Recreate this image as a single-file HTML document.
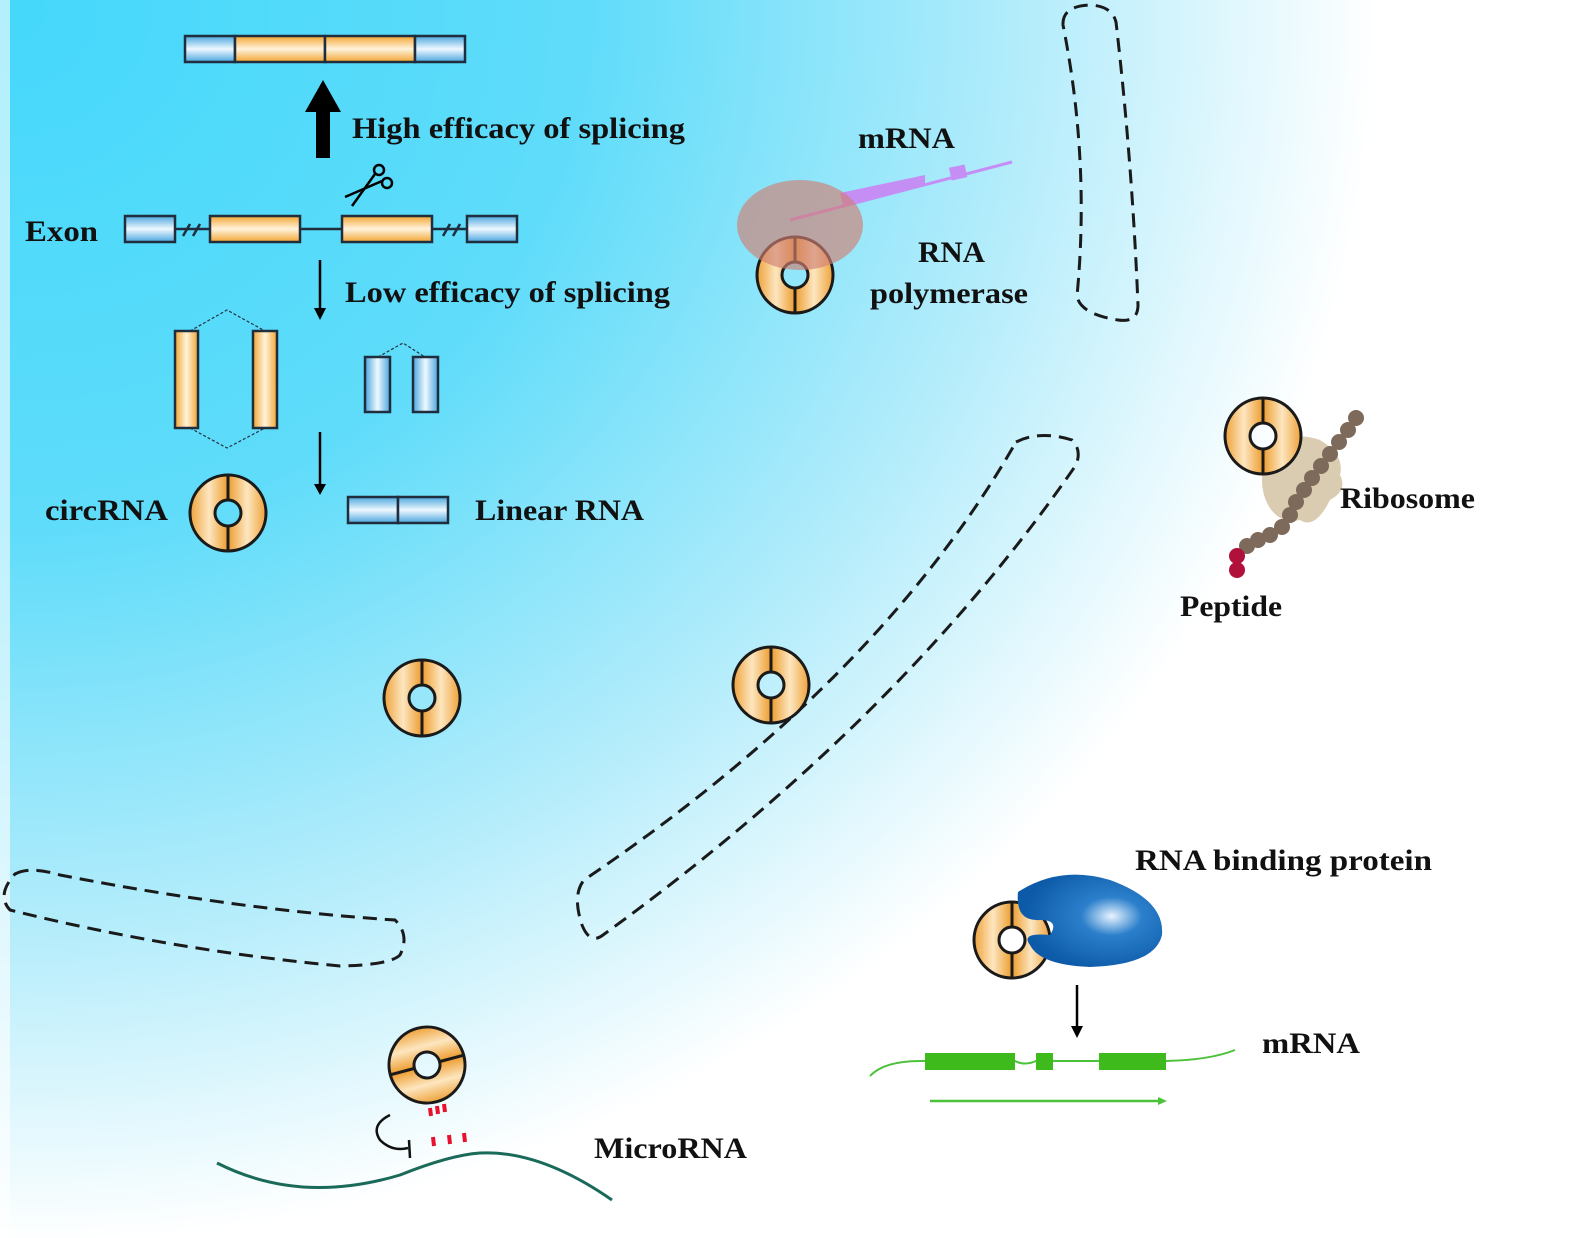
<!DOCTYPE html>
<html><head><meta charset="utf-8"><style>
html,body{margin:0;padding:0;background:#fff}
svg{display:block}
text{font-family:"Liberation Serif",serif;font-weight:bold;fill:#111}
</style></head><body>
<svg width="1590" height="1238" viewBox="0 0 1590 1238" xmlns="http://www.w3.org/2000/svg">
<defs>
<radialGradient id="bg" cx="0" cy="0" r="1" gradientUnits="userSpaceOnUse" gradientTransform="translate(10,10) scale(1440,1300)">
<stop offset="0" stop-color="#45d8fb"/><stop offset="0.4" stop-color="#5fdcfa"/><stop offset="0.7" stop-color="#b2ecfb"/><stop offset="0.95" stop-color="#ffffff"/></radialGradient>
<linearGradient id="or" x1="0" y1="0" x2="1" y2="0"><stop offset="0" stop-color="#f2a531"/><stop offset="0.5" stop-color="#fff3dc"/><stop offset="1" stop-color="#f2a531"/></linearGradient>
<linearGradient id="orv" x1="0" y1="0" x2="0" y2="1"><stop offset="0" stop-color="#f2a531"/><stop offset="0.5" stop-color="#fff3dc"/><stop offset="1" stop-color="#f2a531"/></linearGradient>
<linearGradient id="bl" x1="0" y1="0" x2="1" y2="0"><stop offset="0" stop-color="#4aa6de"/><stop offset="0.5" stop-color="#eef8ff"/><stop offset="1" stop-color="#4aa6de"/></linearGradient>
<linearGradient id="blv" x1="0" y1="0" x2="0" y2="1"><stop offset="0" stop-color="#4aa6de"/><stop offset="0.5" stop-color="#eef8ff"/><stop offset="1" stop-color="#4aa6de"/></linearGradient>
<linearGradient id="rg" x1="0" y1="0" x2="1" y2="0"><stop offset="0" stop-color="#eea23a"/><stop offset="0.25" stop-color="#fde6bf"/><stop offset="0.48" stop-color="#eea23a"/><stop offset="0.52" stop-color="#eea23a"/><stop offset="0.75" stop-color="#fde6bf"/><stop offset="1" stop-color="#eea23a"/></linearGradient>
<radialGradient id="blob" cx="0.65" cy="0.45" r="0.6"><stop offset="0" stop-color="#e8f4ff"/><stop offset="0.35" stop-color="#2b7fcb"/><stop offset="1" stop-color="#0c5aa8"/></radialGradient>
<g id="ring"><path d="M0,-38 A38,38 0 1 1 0,38 A38,38 0 1 1 0,-38 Z M0,-13 A13,13 0 1 0 0,13 A13,13 0 1 0 0,-13 Z" fill="url(#rg)" fill-rule="evenodd" stroke="#1a1a1a" stroke-width="3"/><line x1="0" y1="-38" x2="0" y2="-13" stroke="#1a1a1a" stroke-width="3"/><line x1="0" y1="13" x2="0" y2="38" stroke="#1a1a1a" stroke-width="3"/></g>
</defs>
<rect width="1590" height="1238" fill="url(#bg)"/>
<rect x="0" y="0" width="10" height="1238" fill="#fff" opacity="0.6"/>

<g stroke="#1f2d3d" stroke-width="2.5">
<rect x="185" y="36" width="50" height="26" fill="url(#blv)"/><rect x="235" y="36" width="90" height="26" fill="url(#orv)"/><rect x="325" y="36" width="90" height="26" fill="url(#orv)"/><rect x="415" y="36" width="50" height="26" fill="url(#blv)"/>
</g>
<path d="M316,158 L316,112 L305,112 L323,80 L341,112 L330,112 L330,158 Z" fill="#000"/>
<text x="352" y="138" font-size="30" textLength="333" lengthAdjust="spacingAndGlyphs">High efficacy of splicing</text>
<g stroke="#000" stroke-width="2.5" fill="none"><circle cx="379" cy="170" r="5"/><circle cx="387" cy="183" r="5"/><line x1="375" y1="174" x2="352" y2="206"/><line x1="382" y1="181" x2="345" y2="197"/></g>
<text x="25" y="241" font-size="30" textLength="73" lengthAdjust="spacingAndGlyphs">Exon</text>
<g stroke="#1f2d3d" stroke-width="2.5">
<rect x="125" y="216" width="50" height="26" fill="url(#blv)"/><rect x="210" y="216" width="90" height="26" fill="url(#orv)"/><rect x="342" y="216" width="90" height="26" fill="url(#orv)"/><rect x="467" y="216" width="50" height="26" fill="url(#blv)"/>
<line x1="300" y1="229" x2="342" y2="229"/><line x1="175" y1="229" x2="210" y2="229"/><line x1="432" y1="229" x2="467" y2="229"/>
<line x1="183" y1="236" x2="190" y2="224"/><line x1="193" y1="236" x2="200" y2="224"/><line x1="443" y1="236" x2="450" y2="224"/><line x1="453" y1="236" x2="460" y2="224"/>
</g>
<g stroke="#000" stroke-width="2.5"><line x1="320" y1="260" x2="320" y2="314"/><line x1="320" y1="432" x2="320" y2="490"/></g>
<path d="M314,308 L320,320 L326,308 Z M314,484 L320,495 L326,484 Z" fill="#000"/>
<text x="345" y="302" font-size="30" textLength="325" lengthAdjust="spacingAndGlyphs">Low efficacy of splicing</text>
<g stroke="#1f2d3d" stroke-width="2.5">
<rect x="175" y="331" width="23" height="97" fill="url(#or)"/><rect x="253" y="331" width="24" height="97" fill="url(#or)"/>
<rect x="365" y="357" width="25" height="55" fill="url(#bl)"/><rect x="413" y="357" width="25" height="55" fill="url(#bl)"/>
</g>
<g stroke="#234" stroke-width="1.2" stroke-dasharray="3,2" fill="none"><polyline points="190,331 227,310 265,331"/><polyline points="190,428 227,448 265,428"/><polyline points="378,357 403,343 425,357"/></g>
<text x="45" y="520" font-size="30" textLength="123" lengthAdjust="spacingAndGlyphs">circRNA</text>
<use href="#ring" x="228" y="513"/>
<g stroke="#1f2d3d" stroke-width="2.5"><rect x="348" y="497" width="50" height="26" fill="url(#blv)"/><rect x="398" y="497" width="50" height="26" fill="url(#blv)"/></g>
<text x="475" y="520" font-size="30" textLength="169" lengthAdjust="spacingAndGlyphs">Linear RNA</text>

<text x="858" y="148" font-size="30" textLength="97" lengthAdjust="spacingAndGlyphs">mRNA</text>
<path d="M790,220 L1012,162" stroke="#c58ef5" stroke-width="3"/>
<path d="M840,193 L925,175 L925,186 L843,205 Z" fill="#c58ef5"/>
<rect x="950" y="166" width="16" height="13" fill="#c58ef5" transform="rotate(-12 958 172)"/>
<use href="#ring" x="795" y="275"/>
<ellipse cx="800" cy="225" rx="63" ry="45" fill="#cf7f73" opacity="0.65"/>
<text x="918" y="262" font-size="30" textLength="67" lengthAdjust="spacingAndGlyphs">RNA</text>
<text x="870" y="303" font-size="30" textLength="158" lengthAdjust="spacingAndGlyphs">polymerase</text>

<g fill="none" stroke="#1a1a1a" stroke-width="3" stroke-dasharray="14,8">
<path d="M1063,25 Q1062,6 1090,5 Q1112,6 1116,22 Q1132,160 1138,305 Q1138,323 1118,320 Q1080,314 1077,296 Q1090,160 1063,25 Z"/>
<path d="M1016,442 Q1040,430 1072,440 Q1082,450 1076,465 Q900,720 603,935 Q590,945 582,925 Q572,895 584,880 Q880,680 1016,442 Z"/>
<path d="M15,874 Q30,866 60,875 Q240,910 395,920 Q410,935 400,955 Q390,965 340,966 Q170,950 10,910 Q-4,895 15,874 Z"/>
</g>

<use href="#ring" x="422" y="698"/>
<use href="#ring" x="771" y="685"/>

<path d="M1270,448 Q1290,430 1320,440 Q1345,455 1340,475 Q1348,490 1330,500 Q1315,530 1300,520 Q1280,525 1268,505 Q1255,480 1270,448 Z" fill="#d6c6a8" opacity="0.9"/>
<use href="#ring" x="1263" y="436"/>
<g fill="#7d6a5a">
<circle cx="1356" cy="418" r="8"/><circle cx="1348" cy="430" r="8"/><circle cx="1339" cy="442" r="8"/><circle cx="1330" cy="454" r="8"/><circle cx="1321" cy="466" r="8"/><circle cx="1312" cy="478" r="8"/><circle cx="1304" cy="490" r="8"/><circle cx="1296" cy="502" r="8"/><circle cx="1290" cy="515" r="8"/><circle cx="1282" cy="527" r="8"/><circle cx="1270" cy="535" r="8"/><circle cx="1258" cy="540" r="8"/><circle cx="1247" cy="546" r="8"/>
</g>
<circle cx="1237" cy="556" r="8" fill="#b0103a"/><circle cx="1237" cy="570" r="8" fill="#b0103a"/>
<text x="1340" y="508" font-size="30" textLength="135" lengthAdjust="spacingAndGlyphs">Ribosome</text>
<text x="1180" y="616" font-size="30" textLength="102" lengthAdjust="spacingAndGlyphs">Peptide</text>

<use href="#ring" x="1012" y="940"/>
<path d="M1018,892 Q1060,865 1110,880 Q1165,900 1162,935 Q1155,965 1090,967 Q1040,965 1030,945 Q1020,932 1050,935 Q1060,920 1040,920 Q1015,922 1018,892 Z" fill="url(#blob)"/>
<text x="1135" y="870" font-size="30" textLength="297" lengthAdjust="spacingAndGlyphs">RNA binding protein</text>
<line x1="1077" y1="985" x2="1077" y2="1032" stroke="#000" stroke-width="2.5"/>
<path d="M1071,1026 L1077,1038 L1083,1026 Z" fill="#000"/>
<path d="M870,1076 Q885,1060 925,1061 L1015,1061 Q1025,1066 1036,1061 L1099,1061 L1166,1061 Q1210,1060 1235,1050" fill="none" stroke="#4cc23a" stroke-width="2"/>
<g fill="#3fba1c"><rect x="925" y="1053" width="90" height="17"/><rect x="1036" y="1053" width="17" height="17"/><rect x="1099" y="1053" width="67" height="17"/></g>
<line x1="930" y1="1101" x2="1160" y2="1101" stroke="#4cc23a" stroke-width="2.5"/>
<path d="M1158,1097 L1167,1101 L1158,1105 Z" fill="#4cc23a"/>
<text x="1262" y="1053" font-size="30" textLength="98" lengthAdjust="spacingAndGlyphs">mRNA</text>

<g transform="translate(427,1065) rotate(75)"><use href="#ring"/></g>
<path d="M217,1163 Q300,1205 400,1175 Q450,1155 480,1153 Q540,1150 612,1200" fill="none" stroke="#1a6a5a" stroke-width="3"/>
<path d="M390,1115 Q370,1125 380,1140 Q392,1152 408,1148 M409,1140 L410,1158" fill="none" stroke="#111" stroke-width="2.5"/>
<g stroke="#e8102a" stroke-width="4"><line x1="430" y1="1108" x2="431" y2="1116"/><line x1="437" y1="1106" x2="438" y2="1114"/><line x1="444" y1="1104" x2="445" y2="1112"/><line x1="433" y1="1137" x2="434" y2="1146"/><line x1="449" y1="1135" x2="450" y2="1144"/><line x1="464" y1="1133" x2="465" y2="1142"/></g>
<text x="594" y="1158" font-size="30" textLength="153" lengthAdjust="spacingAndGlyphs">MicroRNA</text>
</svg>
</body></html>
